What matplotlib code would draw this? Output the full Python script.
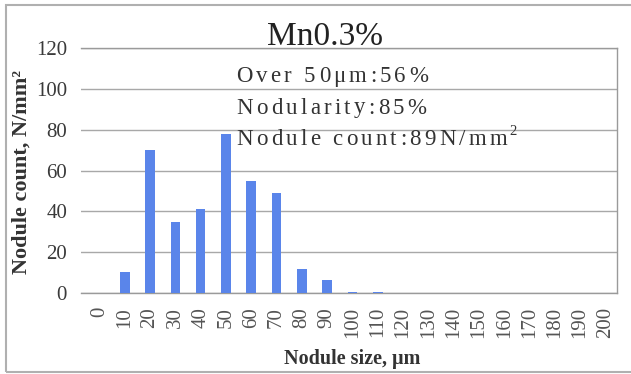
import matplotlib
matplotlib.use("Agg")
import matplotlib.pyplot as plt
import numpy as np
from matplotlib.patches import Rectangle

# Nodule size classes (µm) and counts per class (N/mm²)
sizes = [0, 10, 20, 30, 40, 50, 60, 70, 80, 90, 100,
         110, 120, 130, 140, 150, 160, 170, 180, 190, 200]
counts = [0, 10.5, 70, 35, 41, 78, 55, 49, 12, 6.5, 0.7,
          0.7, 0, 0, 0, 0, 0, 0, 0, 0, 0]
y_ticks = [0, 20, 40, 60, 80, 100, 120]

title = "Mn0.3%"
notes = ["Over 50\u03bcm:56%", "Nodularity:85%", "Nodule count:89N/mm"]
note_sup = ["", "", "2"]

W, H = 631, 374
plt.rcParams["font.family"] = ["Liberation Serif", "DejaVu Serif"]
fig = plt.figure(figsize=(W / 100, H / 100), dpi=100)

def fx(px):
    return px / W

def fy(py):
    return 1 - py / H

ax = fig.add_axes([fx(81), fy(293), fx(617) - fx(81), fy(48) - fy(293)])

x = np.arange(len(sizes))
ax.bar(x, counts, width=0.38, color="#5a85ea", zorder=3)

ax.set_ylim(0, 120)
ax.set_yticks(y_ticks)
ax.set_xlim(-0.73, 20.46)
ax.set_xticks(x)
ax.set_xticklabels([str(s) for s in sizes], rotation=90, va="top", ha="center")

ax.tick_params(axis="y", length=0, pad=10, labelsize=15, labelcolor="#3a3a3a")
ax.tick_params(axis="x", length=0, pad=10, labelsize=15, labelcolor="#555555")
ax.grid(axis="y", color="#a8a8a8", linewidth=1.0, zorder=0)

for side in ["top", "right", "bottom"]:
    ax.spines[side].set_color("#9a9a9a")
    ax.spines[side].set_linewidth(1.0)
ax.spines["left"].set_visible(False)

fig.text(fx(352), fy(364), "Nodule size, \u03bcm", fontsize=14.5, fontweight="bold",
         color="#333333", ha="center", va="baseline")
fig.text(fx(22), fy(172), "Nodule count, N/mm\u00b2", rotation=90,
         fontsize=16, fontweight="bold", color="#333333",
         ha="center", va="center")

fig.text(fx(325), fy(45), title, fontsize=24, color="#222222",
         ha="center", va="baseline")

# Letter-spaced annotation lines
renderer = fig.canvas.get_renderer()

def char_width(ch, size):
    probe = fig.text(0, 0, "x" + ch + "x", fontsize=size)
    w1 = probe.get_window_extent(renderer).width
    probe.remove()
    probe = fig.text(0, 0, "xx", fontsize=size)
    w0 = probe.get_window_extent(renderer).width
    probe.remove()
    return w1 - w0

def spaced_text(x0, y0, s, size, track, color):
    cx = x0
    for ch in s:
        fig.text(fx(cx), fy(y0), ch, fontsize=size, color=color,
                 ha="left", va="baseline")
        cx += char_width(ch, size) + track
    return cx

for i, line in enumerate(notes):
    y0 = 82 + 31.5 * i
    end = spaced_text(236, y0, line, 16.5, 3.3, "#333333")
    if note_sup[i]:
        fig.text(fx(end - 1), fy(y0 - 10), note_sup[i], fontsize=10.5,
                 color="#333333", ha="left", va="baseline")

# Outer chart frame
fig.patches.append(Rectangle((fx(6), fy(372)), fx(640) - fx(6), fy(5) - fy(372),
                             transform=fig.transFigure, fill=False,
                             edgecolor="#b0b0b0", linewidth=1.5))

fig.savefig("out.png", dpi=100)
